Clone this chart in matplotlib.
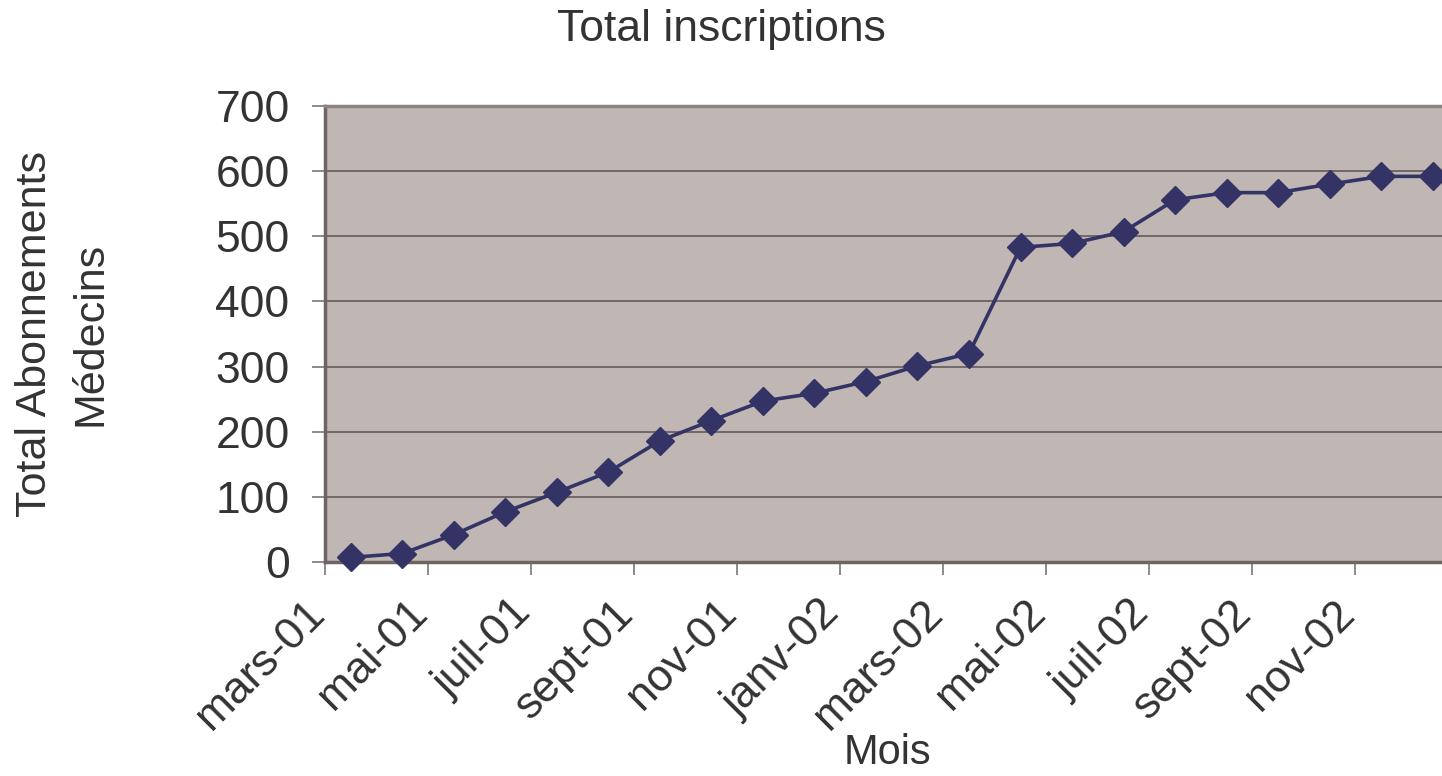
import numpy as np
import matplotlib
matplotlib.use('Agg')
import matplotlib.pyplot as plt
from matplotlib.transforms import ScaledTranslation

# monthly totals, mars-01 .. déc-02
months = ['mars-01', 'avr-01', 'mai-01', 'juin-01', 'juil-01', 'août-01',
          'sept-01', 'oct-01', 'nov-01', 'déc-01', 'janv-02', 'févr-02',
          'mars-02', 'avr-02', 'mai-02', 'juin-02', 'juil-02', 'août-02',
          'sept-02', 'oct-02', 'nov-02', 'déc-02']
totals = [7, 13, 42, 77, 107, 138, 186, 217, 247, 259, 277, 301,
          320, 483, 489, 507, 556, 567, 567, 580, 592, 592]
y_ticks = [0, 100, 200, 300, 400, 500, 600, 700]

TEXT = '#333333'
plt.rcParams['font.family'] = ['Liberation Sans', 'DejaVu Sans']

fig = plt.figure(figsize=(14.42, 7.76), dpi=100)
ax = fig.add_axes([0.2254, 0.2758, 0.786, 0.5876])
ax.set_facecolor('#c0b7b5')

x = np.arange(len(months))
ax.plot(x, totals, color='#333366', lw=2.6, marker='D', ms=14.5,
        mec='#333366', mfc='#333366', zorder=3, clip_on=False)

ax.set_xlim(-0.5, len(months) - 0.5)
ax.set_ylim(0, 700)
ax.set_yticks(y_ticks)
ax.yaxis.grid(True, color='#6a6262', lw=1.3)
ax.set_axisbelow(True)

# ticks sit on category boundaries, one label every two months
tick_pos = np.arange(-0.5, len(months) - 0.5, 2)
ax.set_xticks(tick_pos)
ax.set_xticklabels(months[::2], rotation=45, ha='right', va='center',
                   rotation_mode='anchor')

ax.tick_params(axis='both', colors='#777777', labelcolor=TEXT,
               length=9.5, width=1.2, direction='out')
ax.tick_params(axis='x', pad=23, labelsize=32)
ax.tick_params(axis='y', pad=16, labelsize=32)

shift = ScaledTranslation(-0.07, 0, fig.dpi_scale_trans)
for lab in ax.get_xticklabels():
    lab.set_transform(lab.get_transform() + shift)

for side in ['top', 'right']:
    ax.spines[side].set_color('#8c8080')
    ax.spines[side].set_linewidth(2.5)
ax.spines['left'].set_color('#6e6464')
ax.spines['left'].set_linewidth(2.5)
ax.spines['bottom'].set_color('#6e6464')
ax.spines['bottom'].set_linewidth(2.5)

fig.text(0.5, 0.962, 'Total inscriptions', fontsize=32, color=TEXT,
         ha='center', va='center')
ax.set_xlabel('Mois', fontsize=30, color=TEXT, va='top')
ax.xaxis.set_label_coords(0.496, -0.375)
ax.set_ylabel('Total Abonnements\nMédecins', fontsize=31, color=TEXT,
              linespacing=1.5, va='center')
ax.yaxis.set_label_coords(-0.231, 0.5)

fig.savefig('out.png', dpi=100)
